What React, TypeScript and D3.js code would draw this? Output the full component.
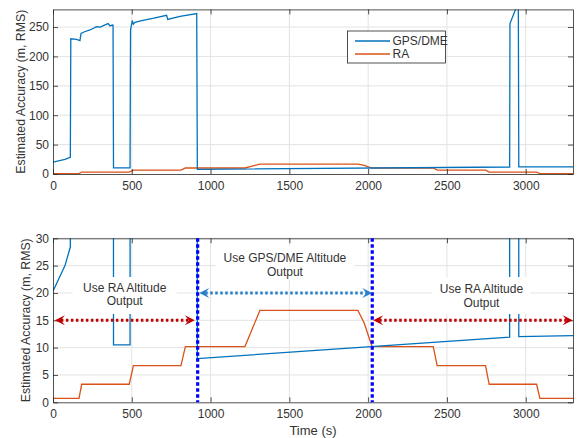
import React, { useRef, useEffect } from "react";
import * as d3 from "d3";

// tick values
const timeTicks = [0, 500, 1000, 1500, 2000, 2500, 3000];
const topAccTicks = [0, 50, 100, 150, 200, 250];
const bottomAccTicks = [0, 5, 10, 15, 20, 25, 30];

// GPS/DME estimated accuracy (m, RMS) vs time (s)
const gpsTime = [
  0, 76, 110, 113, 150, 171, 178, 200, 235, 277, 300, 341, 350, 362, 376, 381,
  384, 489, 492, 503, 510, 520, 563, 640, 721, 728, 806, 912, 916, 2898, 2900,
  2950, 2953, 2956, 3300,
];
const gpsAcc = [
  20.3, 25, 28.4, 230, 229, 227, 239, 242, 245, 250.5, 250, 255, 256, 252,
  253.4, 253, 10.5, 10.5, 245, 261, 255, 258, 261, 265, 270, 263, 268, 273, 8,
  11.9, 256, 290, 290, 12.0, 12.2,
];

// RA estimated accuracy (m, RMS) vs time (s)
const raTime = [
  0, 165, 182, 484, 510, 812, 840, 1218, 1313, 1935, 1975, 2000, 2025, 2413,
  2438, 2745, 2768, 3069, 3090, 3300,
];
const raAcc = [
  0.7, 0.7, 3.3, 3.3, 6.7, 6.7, 10.2, 10.2, 16.8, 16.8, 14.5, 12.3, 10.2, 10.2,
  6.7, 6.7, 3.3, 3.3, 0.7, 0.7,
];

// mode switch times (s) and annotations in the lower panel
const switchTimes = [918, 2026];
const arrowFrom = [12, 928, 2032];
const arrowTo = [900, 2026, 3298];
const arrowLevel = [15, 20, 15];
const arrowKind = ["ra", "gps", "ra"];
const noteLines = [
  ["Use RA Altitude", "Output"],
  ["Use GPS/DME Altitude", "Output"],
  ["Use RA Altitude", "Output"],
];
const noteTime = [455, 1472, 2719];

const FONT = "'Liberation Sans', Arial, Helvetica, sans-serif";
const BLUE = "#0072BD";
const ORANGE = "#D95319";

const App = () => {
  const svgRef = useRef<SVGSVGElement>(null);

  useEffect(() => {
    const svg = d3.select(svgRef.current);
    svg.selectAll("*").remove();
    const defs = svg.append("defs");

    const x = d3.scaleLinear().domain([0, 3300]).range([53, 573]);
    const panels = [
      { id: "top", y: d3.scaleLinear().domain([0, 280]).range([174, 9.4]), ticks: topAccTicks, labelX: 24.5 },
      { id: "bot", y: d3.scaleLinear().domain([0, 30]).range([402.3, 238.3]), ticks: bottomAccTicks, labelX: 29.5 },
    ];

    const gps = gpsTime.map((t, i) => [t, gpsAcc[i]] as [number, number]);
    const ra = raTime.map((t, i) => [t, raAcc[i]] as [number, number]);

    panels.forEach((p) => {
      const [yb, yt] = p.y.range();
      const g = svg.append("g");

      defs
        .append("clipPath")
        .attr("id", "clip-" + p.id)
        .append("rect")
        .attr("x", 53)
        .attr("y", yt)
        .attr("width", 520)
        .attr("height", yb - yt);

      // grid
      g.selectAll(".vgrid")
        .data(timeTicks.filter((t) => t > 0))
        .join("line")
        .attr("x1", (d) => x(d))
        .attr("x2", (d) => x(d))
        .attr("y1", yt)
        .attr("y2", yb)
        .attr("stroke", "#e3e3e3")
        .attr("stroke-width", 1);
      g.selectAll(".hgrid")
        .data(p.ticks.filter((t) => t > 0))
        .join("line")
        .attr("x1", 53)
        .attr("x2", 573)
        .attr("y1", (d) => p.y(d))
        .attr("y2", (d) => p.y(d))
        .attr("stroke", "#e3e3e3")
        .attr("stroke-width", 1);

      // series
      const line = d3
        .line<[number, number]>()
        .x((d) => x(d[0]))
        .y((d) => p.y(d[1]));
      const plot = g.append("g").attr("clip-path", `url(#clip-${p.id})`);
      plot.append("path").datum(ra).attr("d", line).attr("fill", "none").attr("stroke", ORANGE).attr("stroke-width", 1.3);
      plot.append("path").datum(gps).attr("d", line).attr("fill", "none").attr("stroke", BLUE).attr("stroke-width", 1.3);

      // axes (box with inward ticks)
      const styleAxis = (a: any) => {
        a.select(".domain").attr("stroke", "#262626").attr("stroke-width", 0.8);
        a.selectAll(".tick line").attr("stroke", "#262626").attr("stroke-width", 0.8);
        a.selectAll("text").attr("fill", "#333").style("font-family", FONT).style("font-size", "12px");
      };
      g.append("g")
        .attr("transform", `translate(0,${yb})`)
        .call(d3.axisBottom(x).tickValues(timeTicks).tickSize(-5).tickSizeOuter(0).tickPadding(7).tickFormat(d3.format("d")))
        .call(styleAxis);
      g.append("g")
        .attr("transform", `translate(0,${yt})`)
        .call(d3.axisTop(x).tickValues(timeTicks).tickSize(-5).tickSizeOuter(0).tickFormat(() => ""))
        .call(styleAxis);
      g.append("g")
        .attr("transform", "translate(53,0)")
        .call(d3.axisLeft(p.y).tickValues(p.ticks).tickSize(-5).tickSizeOuter(0).tickPadding(4).tickFormat(d3.format("d")))
        .call(styleAxis);
      g.append("g")
        .attr("transform", "translate(573,0)")
        .call(d3.axisRight(p.y).tickValues(p.ticks).tickSize(-5).tickSizeOuter(0).tickFormat(() => ""))
        .call(styleAxis);

      g.append("text")
        .attr("transform", `translate(${p.labelX},${(yb + yt) / 2}) rotate(-90)`)
        .attr("text-anchor", "middle")
        .style("font-family", FONT)
        .style("font-size", "12.3px")
        .attr("fill", "#333")
        .text("Estimated Accuracy (m, RMS)");
    });

    svg.append("text")
      .attr("x", 313)
      .attr("y", 435)
      .attr("text-anchor", "middle")
      .style("font-family", FONT)
      .style("font-size", "13px")
      .attr("fill", "#333")
      .text("Time (s)");

    // legend in upper panel
    const lg = svg.append("g").attr("transform", "translate(347.5,31)");
    lg.append("rect").attr("width", 98).attr("height", 32).attr("fill", "#fff").attr("stroke", "#262626").attr("stroke-width", 0.8);
    [["GPS/DME", BLUE], ["RA", ORANGE]].forEach(([name, c], i) => {
      lg.append("line").attr("x1", 7.5).attr("x2", 42.5).attr("y1", 10 + i * 13).attr("y2", 10 + i * 13).attr("stroke", c).attr("stroke-width", 1.3);
      lg.append("text").attr("x", 45).attr("y", 14.3 + i * 13).style("font-family", FONT).style("font-size", "12px").attr("fill", "#333").text(name);
    });

    // lower panel annotations
    const yb = panels[1].y;
    const ann = svg.append("g");
    const boxW = [104, 138, 98];
    const boxTop = [277, 246, 277];
    const boxH = [37, 34, 37];
    const lineY = [[291.5, 305], [261.5, 276], [293.3, 307]];
    noteTime.forEach((t, i) => {
      const cx = x(t);
      ann.append("rect")
        .attr("x", cx - boxW[i] / 2)
        .attr("y", boxTop[i])
        .attr("width", boxW[i])
        .attr("height", boxH[i])
        .attr("fill", "#fff");
      noteLines[i].forEach((s, j) => {
        ann.append("text")
          .attr("x", cx)
          .attr("y", lineY[i][j])
          .attr("text-anchor", "middle")
          .style("font-family", FONT)
          .style("font-size", "12px")
          .attr("fill", "#333")
          .text(s);
      });
    });

    ann.selectAll(".switch")
      .data(switchTimes)
      .join("line")
      .attr("x1", (d) => x(d))
      .attr("x2", (d) => x(d))
      .attr("y1", yb(30))
      .attr("y2", yb(0))
      .attr("stroke", "#0000ff")
      .attr("stroke-width", 3.2)
      .attr("stroke-dasharray", "3.5,2.5");

    arrowFrom.forEach((a, i) => {
      const c = arrowKind[i] === "ra" ? "#c00000" : "#2a80c8";
      const y = yb(arrowLevel[i]);
      const x0 = x(a);
      const x1 = x(arrowTo[i]);
      ann.append("line")
        .attr("x1", x0 + 6)
        .attr("x2", x1 - 6)
        .attr("y1", y)
        .attr("y2", y)
        .attr("stroke", c)
        .attr("stroke-width", 3)
        .attr("stroke-dasharray", "2.5,2.5");
      [[x0, 1], [x1, -1]].forEach(([tx, dir]) => {
        ann.append("path")
          .attr("d", `M${tx},${y} L${tx + dir * 10},${y - 5} L${tx + dir * 6},${y} L${tx + dir * 10},${y + 5} Z`)
          .attr("fill", c);
      });
    });
  }, []);

  return (
    <svg
      ref={svgRef}
      width={582}
      height={438}
      style={{ position: "absolute", left: 0, top: 0, background: "#fff" }}
    />
  );
};

export default App;
